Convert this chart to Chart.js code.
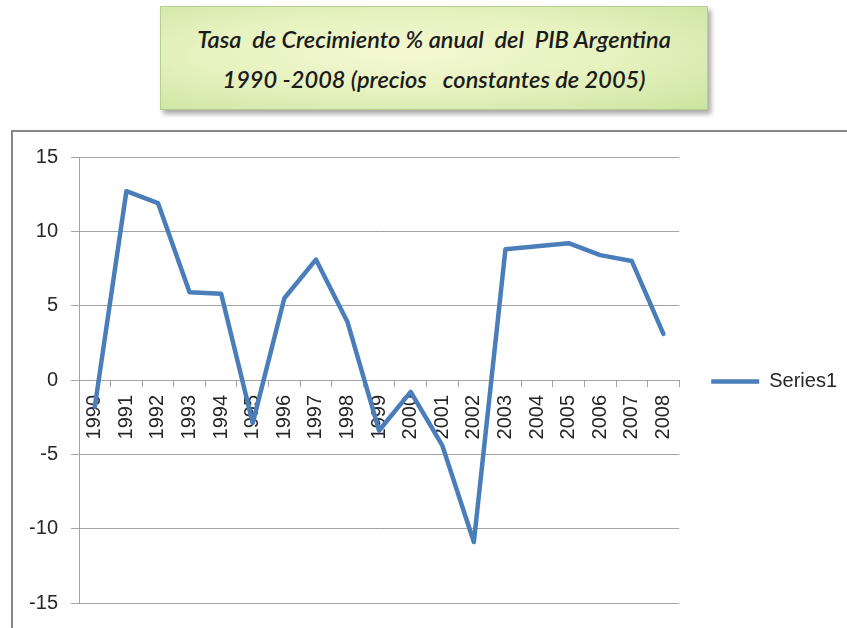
<!DOCTYPE html>
<html>
<head>
<meta charset="utf-8">
<script src="https://cdn.jsdelivr.net/npm/chart.js@4/dist/chart.umd.min.js"></script>
<style>
  html, body { margin:0; padding:0; background:#ffffff; }
  body { width:847px; height:628px; position:relative; overflow:hidden; }
  #frame { position:absolute; left:11px; top:130px; width:900px; height:600px;
           border-left:2px solid #878787; border-top:2px solid #878787; }
  #titlebox { position:absolute; left:160px; top:6px; width:548px; height:104px;
              border:1px solid #b7cf8c;
              background: radial-gradient(ellipse at 45% 45%, #f4f8d2 0%, #e6f2bf 50%, #cbe4a0 100%);
              box-shadow: 3px 4px 5px rgba(0,0,0,0.35);
              display:flex; flex-direction:column; justify-content:center; align-items:center;
              font-family: Lato, "Open Sans", sans-serif; font-style:italic; font-weight:600;
              font-size:23.6px; line-height:40px; color:#1c1c1c; white-space:pre; padding-top:1px; box-sizing:border-box; }
  #c { position:absolute; left:0; top:0; }
</style>
</head>
<body>
<div id="frame"></div>
<div id="titlebox"><div>Tasa  de Crecimiento % anual  del  PIB Argentina</div><div>1990 -2008 (precios   constantes de 2005)</div></div>
<canvas id="c" width="847" height="628"></canvas>
<script>
const years = ["1990","1991","1992","1993","1994","1995","1996","1997","1998","1999",
               "2000","2001","2002","2003","2004","2005","2006","2007","2008"];
const growth = [-1.8, 12.7, 11.9, 5.9, 5.8, -2.9, 5.5, 8.1, 3.9, -3.4,
                -0.8, -4.4, -10.9, 8.8, 9.0, 9.2, 8.4, 8.0, 3.1];
const seriesName = "Series1";
const yMin = -15, yMax = 15, yStep = 5;

const gridColor = "#a3a3a3";
const textColor = "#262626";
const font = { family: "'Liberation Sans', Arial, sans-serif", size: 20 };

new Chart(document.getElementById("c"), {
  type: "line",
  data: {
    labels: years,
    datasets: [{
      label: seriesName,
      data: growth,
      borderColor: "#4a7ebb",
      backgroundColor: "#4a7ebb",
      borderWidth: 4.5,
      pointRadius: 0,
      pointHoverRadius: 0,
      tension: 0,
      borderJoinStyle: "round",
      borderCapStyle: "round",
      pointStyle: "line"
    }]
  },
  options: {
    responsive: false,
    animation: false,
    layout: { padding: { left: 11, top: 157, right: 0, bottom: 22 } },
    plugins: {
      title: { display: false },
      tooltip: { enabled: false },
      legend: {
        display: true,
        position: "right",
        align: "center",
        labels: {
          usePointStyle: true,
          pointStyleWidth: 48,
          padding: 32,
          color: textColor,
          font: font
        }
      }
    },
    scales: {
      x: {
        type: "category",
        position: { y: 0 },
        offset: true,
        grid: { drawOnChartArea: false, drawTicks: true, tickLength: 6, color: gridColor, offset: true, lineWidth: 1 },
        border: { color: gridColor, width: 1 },
        ticks: { autoSkip: false, minRotation: 90, maxRotation: 90, padding: 9, color: textColor, font: font }
      },
      y: {
        min: yMin, max: yMax,
        grid: { color: gridColor, lineWidth: 1, tickLength: 8, drawTicks: true },
        border: { color: gridColor, width: 1 },
        ticks: { stepSize: yStep, padding: 13, color: textColor, font: font },
        afterFit: (s) => { s.width = 68; }
      }
    }
  }
});
</script>
</body>
</html>
